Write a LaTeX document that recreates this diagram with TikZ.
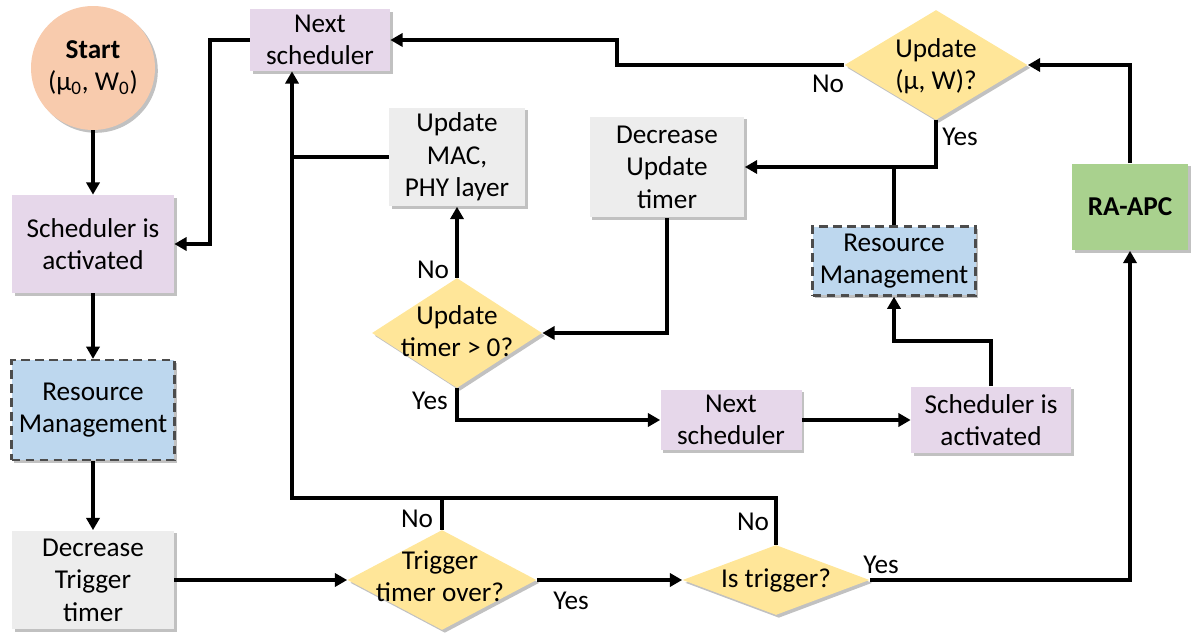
\documentclass[tikz,border=0pt]{standalone}
\usepackage{fontspec}
\setmainfont{Carlito}
\usetikzlibrary{shapes.geometric,arrows.meta,shadows}
\definecolor{peach}{HTML}{F8CBAD}
\definecolor{lav}{HTML}{E6D7EA}
\definecolor{lblue}{HTML}{BDD7EE}
\definecolor{lgray}{HTML}{EDEDED}
\definecolor{yel}{HTML}{FFE699}
\definecolor{grn}{HTML}{A9D18E}
\tikzset{
  shad/.style={drop shadow={shadow xshift=1.6pt,shadow yshift=-1.6pt,opacity=0.35,fill=black!70}},
  boxbase/.style={rectangle,draw=none,align=center,inner sep=0pt,shad},
  lavbox/.style={boxbase,fill=lav},
  graybox/.style={boxbase,fill=lgray},
  resbox/.style={boxbase,fill=lblue,draw=black!70,line width=1.3pt,dash pattern=on 5pt off 3pt},
  grnbox/.style={boxbase,fill=grn,font=\fontsize{15.5}{18.5}\selectfont\bfseries},
  decision/.style={diamond,fill=yel,draw=none,inner sep=0pt,shad},
  dtext/.style={align=center,inner sep=0pt},
  startnode/.style={circle,fill=peach,draw=none,align=center,inner sep=0pt,shad},
  conn/.style={line width=2.2pt,draw=black},
  arr/.style={conn,-{Triangle[length=7pt,width=7.5pt]}},
  lbl/.style={inner sep=0pt}
}
\begin{document}
\begin{tikzpicture}[x=0.02cm,y=-0.02cm,font=\fontsize{15.5}{18.5}\selectfont]
\useasboundingbox (0,0) rectangle (1192,634);
% nodes
\node[startnode,minimum size=2.48cm] (start) at (93,68) {\textbf{Start}\\(μ\textsubscript{0}, W\textsubscript{0})};
\node[lavbox,minimum width=3.24cm,minimum height=1.96cm] (sched1) at (93,244) {Scheduler is\\activated};
\node[resbox,minimum width=3.26cm,minimum height=2.0cm] (res1) at (93,410) {Resource\\Management};
\node[graybox,minimum width=3.24cm,minimum height=1.98cm] (dec1) at (93,580) {Decrease\\Trigger\\timer};
\node[lavbox,minimum width=2.8cm,minimum height=1.24cm] (next1) at (320,40) {Next\\scheduler};
\node[graybox,minimum width=2.72cm,minimum height=1.98cm] (mac) at (457,157) {Update\\MAC,\\PHY layer};
\node[graybox,minimum width=3.1cm,minimum height=2.02cm] (dec2) at (667,167) {Decrease\\Update\\timer};
\node[decision,minimum width=3.66cm,minimum height=2.2cm] (upd) at (936,65) {};
\node[dtext] (updt) at (936,66) {Update\\(μ, W)?};
\node[grnbox,minimum width=2.32cm,minimum height=1.74cm] (ra) at (1130,207) {RA-APC};
\node[resbox,minimum width=3.26cm,minimum height=1.38cm] (res2) at (894,261) {Resource\\Management};
\node[decision,minimum width=3.4cm,minimum height=2.2cm] (utd) at (457,333) {};
\node[dtext] (utdt) at (457,331) {Update\\timer > 0?};
\node[lavbox,minimum width=2.82cm,minimum height=1.22cm] (next2) at (731,420) {Next\\scheduler};
\node[lavbox,minimum width=3.2cm,minimum height=1.34cm] (sched2) at (991,420) {Scheduler is\\activated};
\node[decision,minimum width=3.78cm,minimum height=2.0cm] (ttd) at (442,580) {};
\node[dtext] (ttdt) at (440,576) {Trigger\\timer over?};
\node[decision,minimum width=3.74cm,minimum height=1.4cm] (itd) at (776,580) {};
\node[dtext] (itdt) at (776,580) {Is trigger?};
% helper coordinates
\coordinate (c1) at (617,65);
\coordinate (c2) at (991,341);
\coordinate (bus) at (292,498);
\coordinate (c5) at (210,244);
% connectors
\draw[arr] (start) -- (sched1);
\draw[arr] (sched1) -- (res1);
\draw[arr] (res1) -- (dec1);
\draw[arr] (dec1) -- (ttd);
\draw[arr] (ttd) -- (itd);
\draw[arr] (itd.east) -| (ra.south);
\draw[arr] (ra.north) |- (upd.east);
\draw[arr] (upd.west) -- (c1) |- (next1.east);
\draw[arr] (upd.south) |- (dec2.east);
\draw[conn] (res2.north) -- (res2.north |- dec2.east);
\draw[arr] (sched2.north) -- (c2) -| (res2.south);
\draw[arr] (next2) -- (sched2);
\draw[arr] (utd.south) |- (next2.west);
\draw[arr] (dec2.south) |- (utd.east);
\draw[arr] (utd.north) -- (mac.south);
\draw[conn] (mac.west) -- (mac.west -| bus);
\draw[arr] (ttd.north) |- (bus) -- (bus |- next1.south);
\draw[conn] (itd.north) |- (ttd.north |- bus);
\draw[arr] (next1.west) -| (c5) -- (sched1.east);
% labels
\node[lbl] (l1) at (828,84) {No};
\node[lbl] (l2) at (960,137) {Yes};
\node[lbl] (l3) at (433,270) {No};
\node[lbl] (l4) at (430,401) {Yes};
\node[lbl] (l5) at (417,519) {No};
\node[lbl] (l6) at (753,522) {No};
\node[lbl] (l7) at (571,601) {Yes};
\node[lbl] (l8) at (881,565) {Yes};
\end{tikzpicture}
\end{document}
